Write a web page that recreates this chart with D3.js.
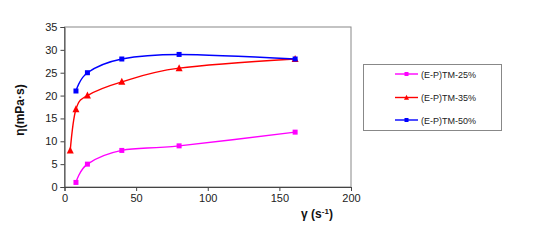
<!DOCTYPE html>
<html>
<head>
<meta charset="utf-8">
<script src="https://cdn.jsdelivr.net/npm/d3@7"></script>
<style>
  body { margin: 0; background: #fff; }
  text { font-family: "Liberation Sans", Arial, sans-serif; }
</style>
</head>
<body>
<div id="chart"></div>
<script>
var width = 543;
var height = 246;

// shear rate (s-1) and viscosity (mPa·s) per series
var x25 = [8, 16, 40, 80, 161];
var y25 = [1, 5, 8, 9, 12];
var x35 = [4, 8, 16, 40, 80, 161];
var y35 = [8, 17, 20, 23, 26, 28];
var x50 = [8, 16, 40, 80, 161];
var y50 = [21, 25, 28, 29, 28];
var seriesNames = ["(E-P)TM-25%", "(E-P)TM-35%", "(E-P)TM-50%"];
var xTicks = [0, 50, 100, 150, 200];
var yTicks = [0, 5, 10, 15, 20, 25, 30, 35];

var series = [
  { name: seriesNames[0], xs: x25, ys: y25, color: "#ff00ff", marker: "square" },
  { name: seriesNames[1], xs: x35, ys: y35, color: "#ff0000", marker: "triangle" },
  { name: seriesNames[2], xs: x50, ys: y50, color: "#0000ff", marker: "square" }
];

var svg = d3.select("#chart")
    .append("svg")
    .attr("width", width)
    .attr("height", height);

var x = d3.scaleLinear().domain([0, 200]).range([64.5, 351]);
var y = d3.scaleLinear().domain([0, 35]).range([187, 27]);

// plot frame (top / right in grey)
svg.append("rect")
    .attr("x", x(0)).attr("y", y(35))
    .attr("width", x(200) - x(0)).attr("height", y(0) - y(35))
    .attr("fill", "none").attr("stroke", "#888").attr("stroke-width", 1);

var xAxis = svg.append("g")
    .attr("transform", "translate(0," + y(0) + ")")
    .call(d3.axisBottom(x).tickValues(xTicks).tickSize(4).tickPadding(3));
var yAxis = svg.append("g")
    .attr("transform", "translate(" + x(0) + ",0)")
    .call(d3.axisLeft(y).tickValues(yTicks).tickSize(4).tickPadding(3));

[xAxis, yAxis].forEach(function(a){
  a.select(".domain").attr("stroke", "#444");
  a.selectAll(".tick line").attr("stroke", "#444");
  a.selectAll(".tick text").attr("fill", "#222").style("font-size", "11px")
    .style("font-family", "'Liberation Sans', Arial, sans-serif");
});

var line = d3.line()
    .x(function(d){ return x(d[0]); })
    .y(function(d){ return y(d[1]); })
    .curve(d3.curveCatmullRom.alpha(0));

function drawMarker(g, type, cx, cy, size, color) {
  if (type === "square") {
    g.append("rect")
      .attr("x", cx - size / 2).attr("y", cy - size / 2)
      .attr("width", size).attr("height", size)
      .attr("fill", color);
  } else {
    var h = size * 0.95;
    g.append("path")
      .attr("d", "M" + cx + "," + (cy - h * 0.6) +
                 "L" + (cx + size / 2) + "," + (cy + h * 0.45) +
                 "L" + (cx - size / 2) + "," + (cy + h * 0.45) + "Z")
      .attr("fill", color);
  }
}

series.forEach(function(s){
  var pts = s.xs.map(function(v, i){ return [v, s.ys[i]]; });
  svg.append("path")
      .attr("d", line(pts))
      .attr("fill", "none")
      .attr("stroke", s.color)
      .attr("stroke-width", 1.4);
  var mg = svg.append("g");
  pts.forEach(function(p){
    drawMarker(mg, s.marker, x(p[0]), y(p[1]), s.marker === "square" ? 5 : 7, s.color);
  });
});

// axis titles
svg.append("text")
    .attr("transform", "translate(24,110) rotate(-90)")
    .attr("text-anchor", "middle")
    .style("font-size", "12px").style("font-weight", "bold")
    .attr("fill", "#111")
    .text("η(mPa·s)");

var xt = svg.append("text")
    .attr("x", 317).attr("y", 218)
    .attr("text-anchor", "middle")
    .style("font-size", "12px").style("font-weight", "bold")
    .attr("fill", "#111");
xt.append("tspan").text("γ (s");
xt.append("tspan").attr("dy", -4).style("font-size", "8px").text("-1");
xt.append("tspan").attr("dy", 4).text(")");

// legend
var leg = svg.append("g");
leg.append("rect")
    .attr("x", 363.5).attr("y", 64.5)
    .attr("width", 138).attr("height", 66)
    .attr("fill", "#fff").attr("stroke", "#888");

var legY = [74, 97.5, 120];
series.forEach(function(s, i){
  leg.append("line")
      .attr("x1", 395).attr("x2", 418)
      .attr("y1", legY[i]).attr("y2", legY[i])
      .attr("stroke", s.color).attr("stroke-width", 1.4);
  drawMarker(leg, s.marker, 406.5, legY[i], s.marker === "square" ? 4 : 5, s.color);
  leg.append("text")
      .attr("x", 421).attr("y", legY[i] + 3.5)
      .style("font-size", "9px").attr("fill", "#222")
      .text(s.name);
});
</script>
</body>
</html>
